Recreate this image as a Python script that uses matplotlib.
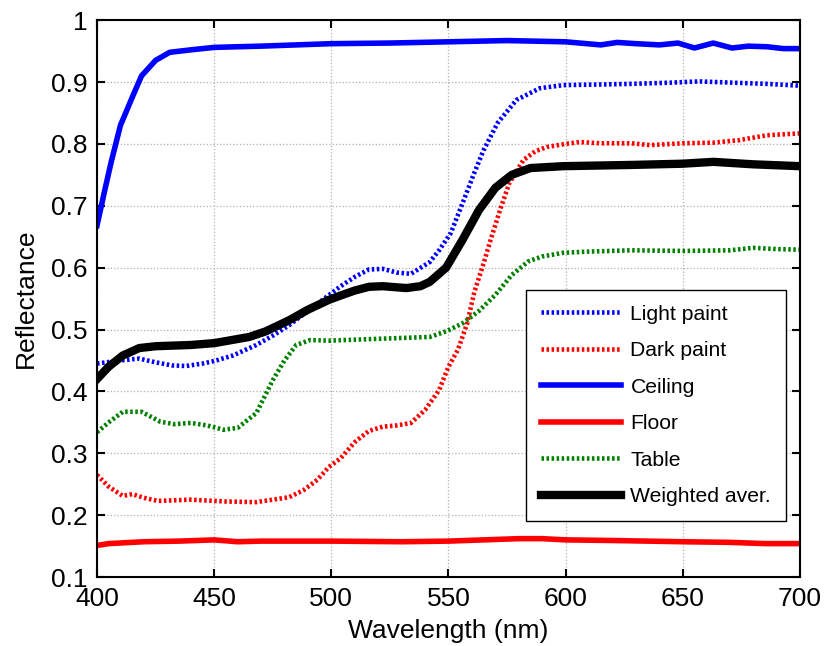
import numpy as np
import matplotlib
matplotlib.use('Agg')
import matplotlib.pyplot as plt

plt.rcParams['font.family'] = ['Liberation Sans', 'DejaVu Sans']

# datos
wl_ceiling = [400, 403, 406, 410, 415, 419, 425, 431, 440, 450, 470, 500, 525, 550, 575,
              600, 615, 622, 630, 640, 648, 655, 663, 671, 678, 686, 693, 700]
ceiling = [0.668, 0.72, 0.77, 0.83, 0.875, 0.91, 0.935, 0.948, 0.952, 0.956, 0.958, 0.962,
           0.963, 0.965, 0.967, 0.965, 0.960, 0.964, 0.962, 0.960, 0.963, 0.955, 0.963,
           0.955, 0.958, 0.957, 0.954, 0.954]

wl_light = [400, 410, 418, 425, 432, 438, 445, 450, 458, 468, 475, 482, 490, 497, 504, 510,
            516, 522, 528, 534, 542, 546, 551, 556, 561, 565, 571, 579, 589, 599, 615, 628,
            645, 657, 671, 686, 700]
light = [0.445, 0.45, 0.453, 0.447, 0.442, 0.441, 0.445, 0.449, 0.458, 0.475, 0.49, 0.507,
         0.53, 0.55, 0.57, 0.585, 0.597, 0.598, 0.592, 0.59, 0.609, 0.628, 0.656, 0.704,
         0.753, 0.79, 0.834, 0.871, 0.89, 0.895, 0.896, 0.897, 0.899, 0.901, 0.899, 0.897,
         0.894]

wl_dark = [400, 405, 411, 415, 420, 426, 440, 455, 468, 482, 488, 494, 499, 504, 510, 516,
           522, 528, 534, 540, 546, 550, 554, 558, 561, 565, 568, 572, 576, 582, 587, 592,
           600, 606, 615, 628, 636, 650, 663, 674, 686, 700]
dark = [0.265, 0.246, 0.231, 0.234, 0.228, 0.223, 0.225, 0.222, 0.221, 0.229, 0.24, 0.257,
        0.278, 0.292, 0.318, 0.336, 0.343, 0.345, 0.349, 0.37, 0.402, 0.44, 0.467, 0.51,
        0.56, 0.607, 0.645, 0.693, 0.737, 0.774, 0.788, 0.795, 0.8, 0.803, 0.801, 0.801,
        0.798, 0.801, 0.802, 0.806, 0.814, 0.817]

wl_floor = [400, 405, 410, 420, 435, 450, 460, 470, 500, 530, 550, 565, 580, 590, 600, 620,
            650, 670, 685, 700]
floor = [0.151, 0.154, 0.155, 0.157, 0.158, 0.160, 0.157, 0.158, 0.158, 0.157, 0.158, 0.160,
         0.162, 0.162, 0.160, 0.159, 0.157, 0.156, 0.154, 0.154]

wl_table = [400, 405, 411, 419, 427, 433, 440, 447, 454, 460, 468, 475, 480, 485, 491, 499,
            520, 542, 549, 556, 563, 570, 577, 584, 590, 599, 610, 628, 650, 670, 680, 690, 700]
table = [0.334, 0.35, 0.367, 0.367, 0.351, 0.347, 0.349, 0.345, 0.338, 0.341, 0.365, 0.418,
         0.45, 0.475, 0.483, 0.482, 0.485, 0.488, 0.497, 0.51, 0.53, 0.556, 0.588, 0.61,
         0.618, 0.624, 0.626, 0.628, 0.627, 0.628, 0.632, 0.63, 0.629]

wl_weighted = [400, 405, 411, 418, 425, 440, 450, 465, 472, 482, 490, 499, 504, 510, 516, 522,
               532, 538, 542, 549, 556, 563, 570, 577, 585, 599, 628, 650, 663, 680, 700]
weighted = [0.42, 0.44, 0.458, 0.47, 0.473, 0.475, 0.478, 0.488, 0.497, 0.515, 0.532, 0.548,
            0.555, 0.563, 0.569, 0.57, 0.567, 0.57, 0.577, 0.6, 0.645, 0.693, 0.729, 0.75,
            0.761, 0.764, 0.766, 0.768, 0.771, 0.767, 0.764]

# grafica
fig = plt.figure(figsize=(8.25, 6.46), dpi=100)
ax = fig.add_axes([0.1176, 0.1068, 0.852, 0.862])

dots = (0, (0.55, 0.55))
ax.plot(wl_light, light, color='#0000ff', lw=3.3, linestyle=dots, label='Light paint')
ax.plot(wl_dark, dark, color='#ff0000', lw=3.3, linestyle=dots, label='Dark paint')
ax.plot(wl_ceiling, ceiling, color='#0000ff', lw=4, label='Ceiling')
ax.plot(wl_floor, floor, color='#ff0000', lw=4, label='Floor')
ax.plot(wl_table, table, color='#008000', lw=3.3, linestyle=dots, label='Table')
ax.plot(wl_weighted, weighted, color='black', lw=6, label='Weighted aver.')

ax.set_xlim(400, 700)
ax.set_ylim(0.1, 1)
ax.set_xticks(np.arange(400, 701, 50))
ax.set_yticks(np.arange(0.1, 1.01, 0.1))
ax.set_yticklabels(['0.1', '0.2', '0.3', '0.4', '0.5', '0.6', '0.7', '0.8', '0.9', '1'])
ax.grid(True, color='#b0b0b0', linestyle=':', linewidth=0.9)
ax.tick_params(direction='in', top=True, right=True, length=6, width=1.5, labelsize=19)
ax.tick_params(axis='y', pad=6.5)
ax.tick_params(axis='x', pad=7)
for s in ax.spines.values():
    s.set_linewidth(1.5)

ax.set_xlabel('Wavelength (nm)', fontsize=19, labelpad=6)
ax.set_ylabel('Reflectance', fontsize=19, labelpad=10)

leg = ax.legend(loc='lower right', bbox_to_anchor=(0.980, 0.1005), borderaxespad=0,
                fontsize=15.2, fancybox=False, edgecolor='black', framealpha=1,
                handlelength=3.8, handletextpad=0.45, labelspacing=0.83, borderpad=0.7)
leg.get_frame().set_linewidth(1.0)

plt.savefig('out.png', dpi=100)
